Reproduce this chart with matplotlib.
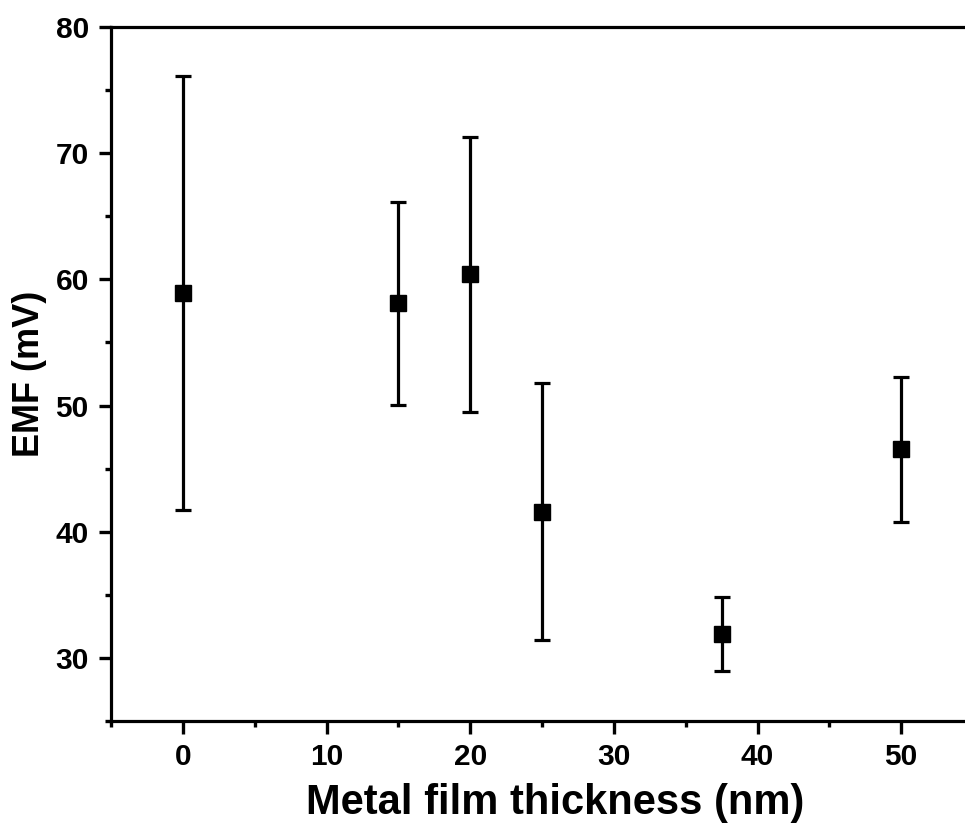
import matplotlib
matplotlib.use("Agg")
import matplotlib.pyplot as plt
from matplotlib.ticker import MultipleLocator

plt.rcParams['font.family'] = ['Liberation Sans', 'DejaVu Sans']
plt.rcParams['font.weight'] = 'bold'

# Measured EMF versus metal film thickness
thickness = [0, 15, 20, 25, 37.5, 50]
emf = [58.9, 58.1, 60.4, 41.6, 31.9, 46.55]
emf_err = [17.2, 8.05, 10.9, 10.2, 2.9, 5.75]

fig = plt.figure(figsize=(9.65, 8.34), dpi=100)
ax = fig.add_axes([111 / 965, 113 / 834, (973 - 111) / 965, 694 / 834])

ax.errorbar(thickness, emf, yerr=emf_err, fmt='s', color='black',
            markersize=11.5, elinewidth=2.3, capsize=6, capthick=2.3)

ax.set_xlim(-5, 55)
ax.set_ylim(25, 80)
ax.xaxis.set_major_locator(MultipleLocator(10))
ax.xaxis.set_minor_locator(MultipleLocator(5))
ax.set_yticks([30, 40, 50, 60, 70, 80])
ax.yaxis.set_minor_locator(MultipleLocator(5))

for s in ax.spines.values():
    s.set_linewidth(2.3)

ax.tick_params(which='major', direction='out', length=9, width=2.4,
               labelsize=21.5, pad=7)
ax.tick_params(which='minor', direction='out', length=4.5, width=2.4)

ax.set_xlabel('Metal film thickness (nm)', fontsize=30, fontweight='bold')
ax.xaxis.set_label_coords((555 - 111) / 862, -0.09)
ax.set_ylabel('EMF (mV)', fontsize=26, fontweight='bold', labelpad=6)

fig.savefig('out.png', dpi=100)
